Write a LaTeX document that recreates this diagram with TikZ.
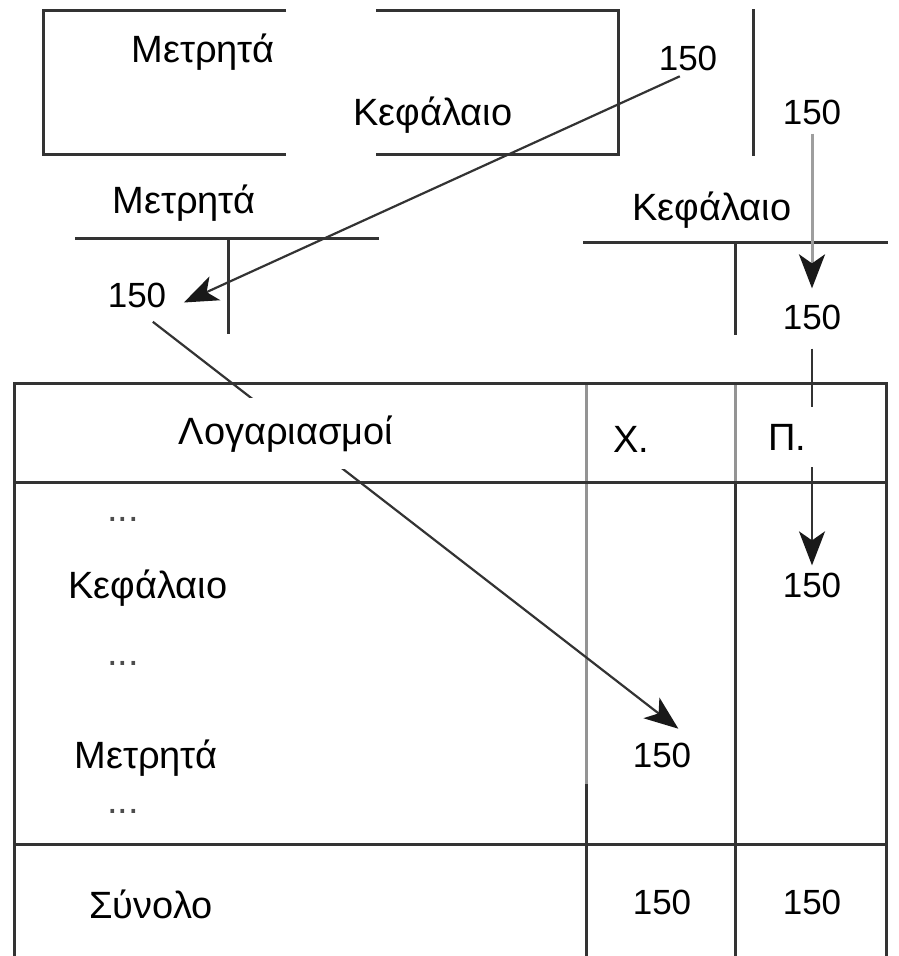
\documentclass[tikz,border=0pt]{standalone}
\usepackage{fontspec}
\setmainfont{Liberation Sans}
\usetikzlibrary{arrows.meta}

\begin{document}
\begin{tikzpicture}[x=1pt,y=-1pt,
        word/.style={font=\fontsize{38}{40}\selectfont,anchor=base,inner sep=2pt},
        num/.style={font=\fontsize{35}{37}\selectfont,anchor=base,inner sep=2pt},
        dots/.style={word,anchor=center,text=black!70},
        rule/.style={line width=3pt,draw=black!80},
        pale/.style={line width=3pt,draw=black!42},
        arr/.style={line width=2.2pt,draw=black!80,
            -{Stealth[length=34pt,width=26pt,inset=9pt,color=black!90]}},
        gap/.style={fill=white,inner xsep=12pt,inner ysep=17pt}]
        \useasboundingbox (0,0) rectangle (899,956);

        % journal entry
        \draw[rule] (286,10) -- (43,10) -- (43,154) -- (286,154);
        \draw[rule] (376,10) -- (618,10) -- (618,154) -- (376,154);
        \draw[rule] (753,9) -- (753,156);

        % T accounts
        \draw[rule] (75,238) -- (379,238) (228,238) -- (228,334);
        \draw[rule] (583,242) -- (888,242) (735,242) -- (735,335);

        % trial balance
        \draw[pale] (586,383) -- (586,784) (735,383) -- (735,482);
        \draw[rule] (586,784) -- (586,956) (735,482) -- (735,956);
        \draw[rule] (14,956) -- (14,383) -- (886,383) -- (886,956);
        \draw[rule] (14,482) -- (886,482) (14,844) -- (886,844);

        \node[word] (boxM) at (203,62) {Μετρητά};
        \node[word] (boxK) at (433,125) {Κεφάλαιο};
        \node[word] (tM) at (184,213) {Μετρητά};
        \node[word] (tK) at (712,220) {Κεφάλαιο};
        \node[word] (headX) at (631,452) {Χ.};
        \node[word] (rowK) at (148,598) {Κεφάλαιο};
        \node[word] (rowM) at (146,768) {Μετρητά};
        \node[word] (sum) at (151,918) {Σύνολο};

        \foreach \name/\x/\y in {boxcr/688/70, boxdr/812/124, tMdr/137/307,
            tKcr/812/329, rowKcr/812/597, rowMdr/662/767, sumdr/662/914,
            sumcr/812/914}
            \node[num] (\name) at (\x,\y) {150};

        \foreach \y in {519,663,811}
            \node[dots] (dots\y) at (123,\y) {...};

        % posting to the T accounts
        \draw[arr,shorten <=9pt,shorten >=17pt] (boxcr.south) -- (tMdr.south east);
        \draw[arr,line width=3pt,draw=black!38,shorten <=7pt,shorten >=14pt]
            (boxdr.south) -- (tKcr.north);

        % balances to the trial balance
        \draw[arr,shorten <=20pt,shorten >=19pt] (tMdr.south) -- (rowMdr.north east);
        \draw[arr,shorten <=17pt,shorten >=5pt] (tKcr.south) -- (rowKcr.north);

        % header on top of the arrows
        \node[word,gap] (head) at (286,444) {Λογαριασμοί};
        \node[word,gap] (headP) at (787,450) {Π.};
    \end{tikzpicture}
\end{document}
